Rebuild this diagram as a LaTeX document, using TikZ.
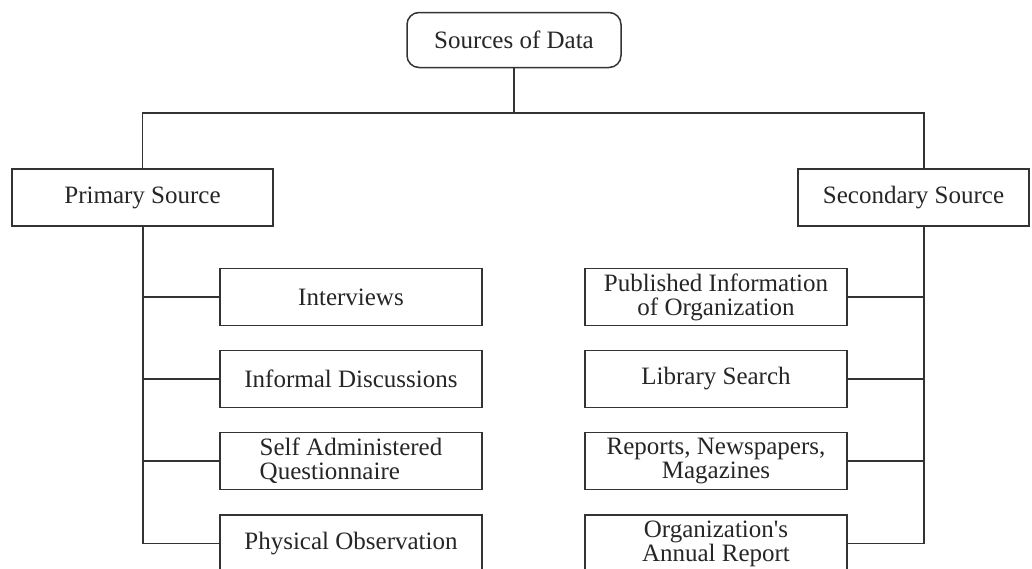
\documentclass[tikz,border=0pt]{standalone}
\usepackage{fontspec}
\setmainfont{Liberation Serif}
\begin{document}
\begin{tikzpicture}[x=1pt,y=-1pt,
  line width=1.5pt,
  every node/.style={text=black!85, font=\fontsize{25}{24}\selectfont, align=center, inner sep=0pt},
  box/.style={draw=black!80, line width=1.5pt, minimum width=262, minimum height=57},
  rootbox/.style={draw=black!80, line width=1.5pt, rounded corners=12pt, minimum width=214, minimum height=55},
  headbox/.style={draw=black!80, line width=1.5pt, minimum height=57},
  link/.style={draw=black!80, line width=1.4pt}]
\useasboundingbox (0,0) rectangle (1032,568);
\clip (0,0) rectangle (1032,568);
\fill[white] (0,0) rectangle (1032,568);

% root and the two branches
\node[rootbox] (root) at (514,40) {Sources of Data};
\node[headbox, minimum width=261] (prim) at (142.5,197.5) {Primary Source};
\node[headbox, minimum width=231] (sec) at (913.5,197.5) {Secondary Source};

\coordinate (hub) at (514,113);
\draw[link] (root.south) -- (hub);
\draw[link] (hub) -| (prim.north);
\draw[link] (hub) -| (924,169) coordinate (secin);

% primary sources
\node[box] (p1) at (351,297) {Interviews};
\node[box] (p2) at (351,379) {Informal Discussions};
\node[box, align=left] (p3) at (351,461) {Self Administered\\Questionnaire};
\node[box] (p4) at (351,543.5) {Physical Observation};

% secondary sources
\node[box] (s1) at (716,297) {Published Information\\of Organization};
\node[box] (s2) at (716,379) {Library Search};
\node[box] (s3) at (716,461) {Reports, Newspapers,\\Magazines};
\node[box] (s4) at (716,543.5) {Organization\textquotesingle s\\Annual Report};

% left trunk
\coordinate (ltop) at (143,226);
\draw[link] (ltop) |- (p4.west);
\foreach \n in {p1,p2,p3}
  \draw[link] (\n.west) -- (\n.west -| ltop);

% right trunk
\coordinate (rtop) at (924,226);
\draw[link] (rtop) |- (s4.east);
\foreach \n in {s1,s2,s3}
  \draw[link] (\n.east) -- (\n.east -| rtop);
\end{tikzpicture}
\end{document}
